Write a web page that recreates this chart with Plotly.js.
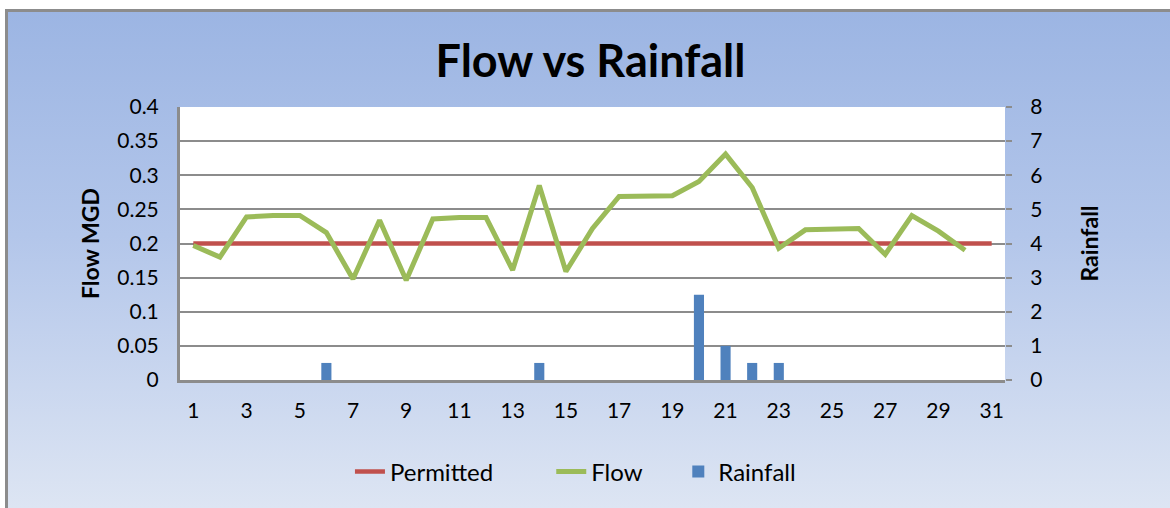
<!DOCTYPE html>
<html>
<head>
<meta charset="utf-8">
<script src="https://cdn.plot.ly/plotly-3.0.1.min.js"></script>
<style>
  html, body { margin: 0; padding: 0; background: #ffffff; }
  #frame {
    position: absolute; left: 5px; top: 9px; width: 1165px; height: 499px;
    border-top: 3px solid #8c8c8c; border-left: 3px solid #8c8c8c;
    box-sizing: border-box;
    background: linear-gradient(to bottom, #9cb5e3 0%, #b3c6ea 45%, #dde5f3 100%);
  }
  #chart { position: absolute; left: 0; top: 0; width: 1170px; height: 508px; }
</style>
</head>
<body>
<div id="frame"></div>
<div id="chart"></div>
<script>
const days = [1,2,3,4,5,6,7,8,9,10,11,12,13,14,15,16,17,18,19,20,21,22,23,24,25,26,27,28,29,30,31];
const permitted = [0.2,0.2,0.2,0.2,0.2,0.2,0.2,0.2,0.2,0.2,0.2,0.2,0.2,0.2,0.2,0.2,0.2,0.2,0.2,0.2,0.2,0.2,0.2,0.2,0.2,0.2,0.2,0.2,0.2,0.2,0.2];
const flow = [0.197,0.180,0.239,0.241,0.241,0.216,0.148,0.234,0.146,0.236,0.238,0.238,0.161,0.285,0.159,0.222,0.269,0.270,0.270,0.291,0.331,0.282,0.193,0.220,0.221,0.222,0.184,0.241,0.218,0.190,null];
const rainfall = [0,0,0,0,0,0.5,0,0,0,0,0,0,0,0.5,0,0,0,0,0,2.5,1,0.5,0.5,0,0,0,0,0,0,0,0];
const xTicks = [1,3,5,7,9,11,13,15,17,19,21,23,25,27,29,31];

const FONT = 'Lato, "Open Sans", sans-serif';
const legendBase = {
  orientation: 'h', y: -0.337, yanchor: 'middle', xanchor: 'left',
  font: { family: FONT, size: 24, color: '#000000' }, bgcolor: 'rgba(0,0,0,0)',
  itemwidth: 30
};

const traces = [
  {
    type: 'bar', name: 'Rainfall', x: days, y: rainfall,
    xaxis: 'x', yaxis: 'y', width: 0.38,
    marker: { color: '#4f81bd', line: { width: 0 } },
    legend: 'legend3'
  },
  {
    type: 'scatter', mode: 'lines', name: 'Permitted', x: days, y: permitted,
    xaxis: 'x', yaxis: 'y2',
    line: { color: '#c0504d', width: 4.5 },
    legend: 'legend'
  },
  {
    type: 'scatter', mode: 'lines', name: 'Flow', x: days, y: flow,
    xaxis: 'x', yaxis: 'y2',
    line: { color: '#9bbb59', width: 5 },
    legend: 'legend2'
  }
];

const layout = {
  width: 1170, height: 508,
  margin: { l: 180, r: 165, t: 107, b: 128 },
  paper_bgcolor: 'rgba(0,0,0,0)',
  plot_bgcolor: '#ffffff',
  font: { family: FONT, size: 20, color: '#000000' },
  title: {
    text: '<b>Flow vs Rainfall</b>',
    font: { family: FONT, size: 45, color: '#000000' },
    x: 0.5047, xanchor: 'center', y: 0.88, yanchor: 'middle'
  },
  showlegend: true,
  legend: Object.assign({}, legendBase, { x: 0.206 }),
  legend2: Object.assign({}, legendBase, { x: 0.45 }),
  legend3: Object.assign({}, legendBase, { x: 0.604 }),
  xaxis: {
    range: [0.5, 31.5], tickvals: xTicks, ticktext: xTicks.map(String),
    showgrid: false, zeroline: false,
    showline: true, linecolor: '#8c8c8c', linewidth: 2.5,
    ticks: '', tickfont: { family: FONT, size: 21 }, ticklabelstandoff: 10
  },
  yaxis: {
    side: 'right', range: [0, 8], dtick: 1, tick0: 0,
    showgrid: true, gridcolor: '#8c8c8c', gridwidth: 2,
    zeroline: false, showline: false,
    ticks: 'outside', ticklen: 6, tickcolor: '#8c8c8c', tickwidth: 2,
    tickfont: { family: FONT, size: 21 }, ticklabelstandoff: 14,
    title: { text: '<b>Rainfall</b>', font: { family: FONT, size: 23 }, standoff: 40 }
  },
  yaxis2: {
    side: 'left', overlaying: 'y', range: [0, 0.4], dtick: 0.05, tick0: 0,
    showgrid: false, zeroline: false,
    showline: true, linecolor: '#8c8c8c', linewidth: 3,
    ticks: '', tickfont: { family: FONT, size: 21 },
    ticklabelstandoff: 14,
    title: { text: '<b>Flow MGD</b>', font: { family: FONT, size: 23 }, standoff: 12 }
  }
};

Plotly.newPlot('chart', traces, layout, { displayModeBar: false, staticPlot: true });
</script>
</body>
</html>
